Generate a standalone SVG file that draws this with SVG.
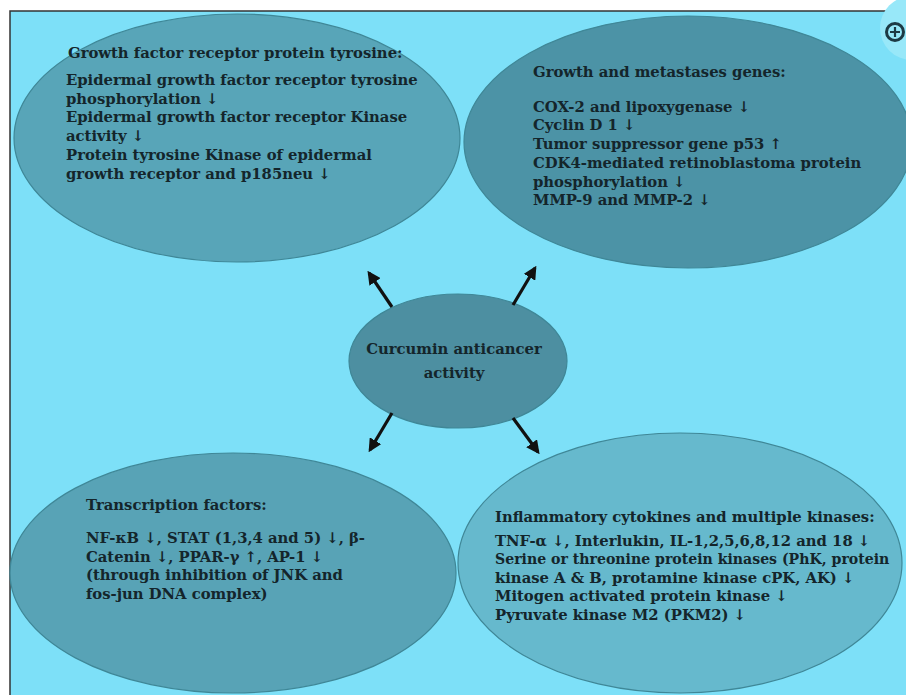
<svg xmlns="http://www.w3.org/2000/svg" width="906" height="695" viewBox="0 0 906 695">
  <defs>
    <marker id="ah" viewBox="0 0 10 10" refX="8" refY="5" markerWidth="4.2" markerHeight="4.2" orient="auto" markerUnits="strokeWidth">
      <path d="M0,0 L10,5 L0,10 Z" fill="#111"/>
    </marker>
  </defs>
  <style>
    .bg { fill: #7de0f8; }
    .ell { stroke: #3f8797; stroke-width: 1.2; }
    .t { font-family: "DejaVu Serif", "Liberation Serif", serif; font-weight: bold; font-size: 14.8px; fill: #14252b; }
    .t.sm { font-size: 14.1px; }
    .conn { stroke: #111; stroke-width: 3.2; fill: none; marker-end: url(#ah); }
  </style>
  <rect x="0" y="0" width="906" height="695" fill="#ffffff"/>
  <rect class="bg" x="10" y="11" width="896" height="684"/>
  <path d="M10,695 L10,11 L906,11" stroke="#333" stroke-width="1.5" fill="none"/>
  <circle cx="912" cy="28" r="32" fill="#98e8f9"/>
  <g id="zoom-icon">
    <circle cx="895" cy="32" r="8.5" fill="none" stroke="#1d3a44" stroke-width="3"/>
    <path d="M895,27 V37 M890,32 H900" stroke="#1d3a44" stroke-width="2.2"/>
  </g>

  <g id="node-growth-factor">
    <ellipse class="ell" cx="237" cy="138" rx="223" ry="124" fill="#58a5b8"/>
    <text class="t" x="68" y="58">Growth factor receptor protein tyrosine:</text>
    <text class="t" x="66" y="85">Epidermal growth factor receptor tyrosine</text>
    <text class="t" x="66" y="104">phosphorylation ↓</text>
    <text class="t" x="66" y="122">Epidermal growth factor receptor Kinase</text>
    <text class="t" x="66" y="141">activity ↓</text>
    <text class="t" x="66" y="160"> Protein tyrosine Kinase of epidermal</text>
    <text class="t" x="66" y="179">growth receptor and p185neu ↓</text>
  </g>

  <g id="node-metastases">
    <ellipse class="ell" cx="688" cy="142" rx="224" ry="126" fill="#4c93a6"/>
    <text class="t" x="533" y="77">Growth and metastases genes:</text>
    <text class="t" x="533" y="112">COX-2 and lipoxygenase ↓</text>
    <text class="t" x="533" y="130">Cyclin D 1 ↓</text>
    <text class="t" x="533" y="149">Tumor suppressor gene p53 ↑</text>
    <text class="t" x="533" y="168">CDK4-mediated retinoblastoma protein</text>
    <text class="t" x="533" y="187">phosphorylation ↓</text>
    <text class="t" x="533" y="205">MMP-9 and MMP-2 ↓</text>
  </g>

  <g id="node-center">
    <ellipse class="ell" cx="458" cy="361" rx="109" ry="67" fill="#4d8fa1"/>
    <text class="t" x="454" y="354" text-anchor="middle">Curcumin anticancer</text>
    <text class="t" x="454" y="378" text-anchor="middle">activity</text>
  </g>

  <g id="node-transcription">
    <ellipse class="ell" cx="233" cy="573" rx="223" ry="120" fill="#58a3b6"/>
    <text class="t" x="86" y="510">Transcription factors:</text>
    <text class="t" x="86" y="543">NF-κB ↓, STAT (1,3,4 and 5) ↓, β-</text>
    <text class="t" x="86" y="562">Catenin ↓, PPAR-γ ↑, AP-1 ↓</text>
    <text class="t" x="86" y="580">(through inhibition of JNK and</text>
    <text class="t" x="86" y="599">fos-jun DNA complex)</text>
  </g>

  <g id="node-inflammatory">
    <ellipse class="ell" cx="680" cy="563" rx="222" ry="130" fill="#66b9cd"/>
    <text class="t" x="495" y="522">Inflammatory cytokines and multiple kinases:</text>
    <text class="t" x="495" y="546">TNF-α ↓, Interlukin, IL-1,2,5,6,8,12 and 18 ↓</text>
    <text class="t sm" x="495" y="564">Serine or threonine protein kinases (PhK, protein</text>
    <text class="t" x="495" y="583">kinase A &amp; B, protamine kinase cPK, AK) ↓</text>
    <text class="t" x="495" y="601">Mitogen activated protein kinase ↓</text>
    <text class="t" x="495" y="620">Pyruvate kinase M2 (PKM2) ↓</text>
  </g>

  <g id="connectors">
    <line class="conn" x1="392" y1="307" x2="369" y2="273"/>
    <line class="conn" x1="513" y1="305" x2="535" y2="268"/>
    <line class="conn" x1="392" y1="413" x2="370" y2="450"/>
    <line class="conn" x1="513" y1="418" x2="538" y2="452"/>
  </g>
</svg>
